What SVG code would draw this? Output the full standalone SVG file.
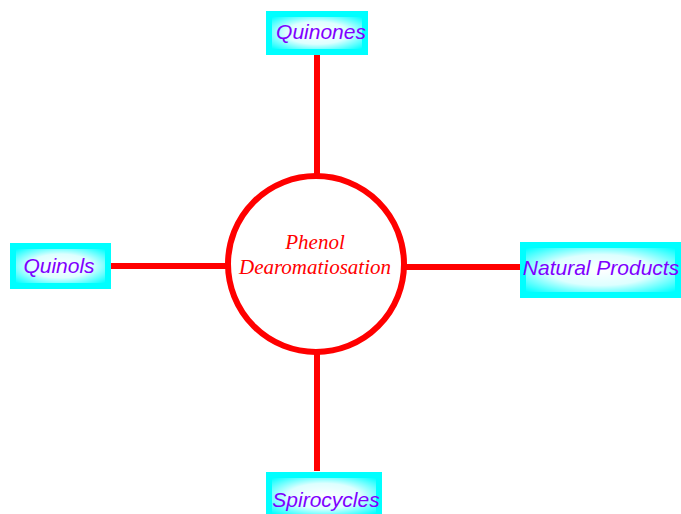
<svg xmlns="http://www.w3.org/2000/svg" width="681" height="514" viewBox="0 0 681 514">
<defs>
<radialGradient id="g" cx="0.5" cy="0.5" r="0.7">
<stop offset="0" stop-color="#ffffff"/>
<stop offset="0.5" stop-color="#ddffff"/>
<stop offset="1" stop-color="#00ffff"/>
</radialGradient>
<style>
.box{fill:#00ffff}
.inner{fill:url(#g)}
.lbl{font-family:"Liberation Sans",Arial,sans-serif;font-style:italic;font-size:21px;fill:#7f00ff;text-anchor:middle}
.ctr{font-family:"Liberation Serif","Times New Roman",serif;font-style:italic;font-size:21px;fill:#ff0000;text-anchor:middle}
.con{stroke:#ff0000;stroke-width:6;fill:none}
</style>
</defs>
<rect width="681" height="514" fill="#ffffff"/>
<g id="connectors">
<line class="con" x1="317" y1="55" x2="317" y2="175"/>
<line class="con" x1="111" y1="266" x2="226" y2="266"/>
<line class="con" x1="405" y1="267" x2="521" y2="267"/>
<line class="con" x1="317" y1="353" x2="317" y2="471"/>
</g>
<g id="center">
<circle cx="316" cy="264" r="88" fill="#ffffff" stroke="#ff0000" stroke-width="6"/>
<text class="ctr" x="315" y="249">Phenol</text>
<text class="ctr" x="315" y="274">Dearomatiosation</text>
</g>
<g id="quinones">
<rect class="box" x="266" y="11" width="102" height="44"/>
<rect class="inner" x="272" y="17" width="90" height="32"/>
<text class="lbl" x="321" y="39">Quinones</text>
</g>
<g id="quinols">
<rect class="box" x="10" y="243" width="101" height="46"/>
<rect class="inner" x="16" y="249" width="89" height="34"/>
<text class="lbl" x="59" y="273">Quinols</text>
</g>
<g id="natural">
<rect class="box" x="520" y="242" width="161" height="56"/>
<rect class="inner" x="526" y="248" width="149" height="44"/>
<text class="lbl" x="601" y="275">Natural Products</text>
</g>
<g id="spirocycles">
<rect class="box" x="266" y="472" width="116" height="42"/>
<rect class="inner" x="272" y="478" width="104" height="36"/>
<text class="lbl" x="326" y="507">Spirocycles</text>
</g>
</svg>
